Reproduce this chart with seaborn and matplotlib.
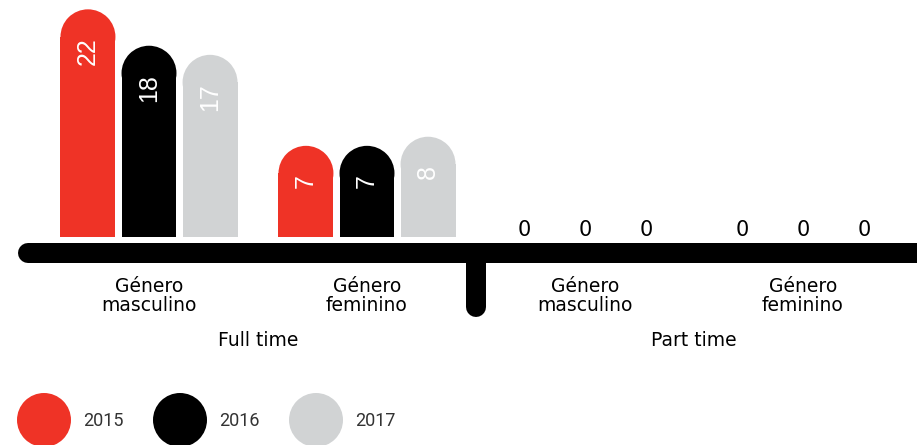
import matplotlib
matplotlib.use("Agg")
import matplotlib.pyplot as plt
import seaborn as sns
import pandas as pd
from matplotlib.patches import Ellipse, Circle

# --- data -------------------------------------------------------------
groups = ["FT masculino", "FT feminino", "PT masculino", "PT feminino"]
group_labels = ["Género\nmasculino", "Género\nfeminino", "Género\nmasculino", "Género\nfeminino"]
years = ["2015", "2016", "2017"]
values_2015 = [22, 7, 0, 0]
values_2016 = [18, 7, 0, 0]
values_2017 = [17, 8, 0, 0]
sections = ["Full time", "Part time"]

colors = {"2015": "#EF3326", "2016": "#000000", "2017": "#D1D3D4"}

rows = []
for yr, vals in zip(years, [values_2015, values_2016, values_2017]):
    for g, v in zip(groups, vals):
        rows.append({"group": g, "year": yr, "value": v})
df = pd.DataFrame(rows)

# --- figure -----------------------------------------------------------
W, H, DPI = 917, 445, 100
sns.set_theme(style="white")
plt.rcParams["font.family"] = ["DejaVu Sans"]

fig = plt.figure(figsize=(W / DPI, H / DPI), dpi=DPI)
ax = fig.add_axes([0, 0, 1, 1])

# pixel geometry of the layout
x0_px, step_px = 149, 218          # first group centre, spacing between groups
base_px = 237                      # bar bottom (from top)
ppu = 9.1                          # pixels per unit

sns.barplot(data=df, x="group", y="value", hue="year", order=groups,
            hue_order=years, palette=colors, width=0.84, gap=0.1,
            saturation=1, legend=False, ax=ax, linewidth=0)
ax.set_xlim(-x0_px / step_px, (W - x0_px) / step_px)
ax.set_ylim(-(H - base_px) / ppu, base_px / ppu)
ax.axis("off")

data_per_px_x = 1 / step_px
data_per_px_y = 1 / ppu

# rounded caps + value labels
for patch in list(ax.patches):
    h = patch.get_height()
    x = patch.get_x()
    w = patch.get_width()
    cx = x + w / 2
    col = patch.get_facecolor()
    if h > 0:
        r_px = w / data_per_px_x / 2
        cap = Ellipse((cx, h), w, 2 * r_px * data_per_px_y,
                      facecolor=col, edgecolor="none", zorder=patch.get_zorder())
        ax.add_patch(cap)
        top = h + r_px * data_per_px_y
        ax.text(cx, top - 28 * data_per_px_y, f"{h:g}", rotation=90,
                ha="center", va="top", color="white", fontsize=18,
                family=["Liberation Sans", "DejaVu Sans"])
    else:
        ax.text(cx, 7 * data_per_px_y, "0", ha="center", va="center",
                color="black", fontsize=15)

# baseline and divider
base_y = -(253 - base_px) * data_per_px_y
ax.plot([(28 - x0_px) / step_px, 5], [base_y, base_y], color="black",
        lw=20 * 72 / DPI, solid_capstyle="round", zorder=3)
ax.plot([1.5, 1.5], [base_y, -(307 - base_px) * data_per_px_y], color="black",
        lw=20 * 72 / DPI, solid_capstyle="round", zorder=3)

# group and section labels
trans = ax.get_xaxis_transform()
for i, lab in enumerate(group_labels):
    ax.text(i, 1 - 296 / H, lab, ha="center", va="center", fontsize=13.5,
            linespacing=0.95, transform=trans, color="black")
for i, sec in enumerate(sections):
    ax.text(0.5 + 2 * i, 1 - 340 / H, sec, ha="center", va="center",
            fontsize=13.5, transform=trans, color="black")

# legend
leg_cx = [44, 180, 316]
for yr, cx in zip(years, leg_cx):
    fig.add_artist(Circle((cx / DPI, (H - 420) / DPI), 27 / DPI,
                          transform=fig.dpi_scale_trans,
                          facecolor=colors[yr], edgecolor="none"))
    fig.text((cx + 39) / W, 1 - 421 / H, yr, ha="left", va="center",
             fontsize=13, color="#333333",
             family=["Roboto", "DejaVu Sans"], fontweight="normal")

fig.savefig("out.png", dpi=DPI, facecolor="white")
